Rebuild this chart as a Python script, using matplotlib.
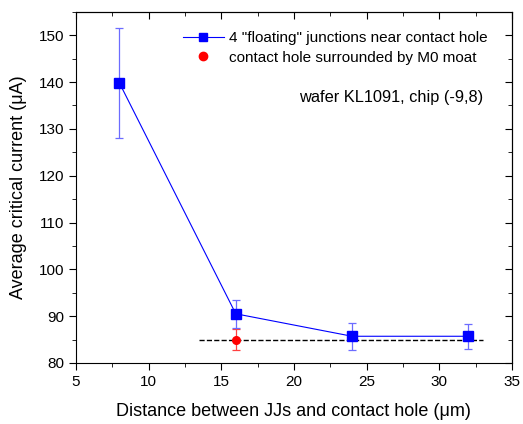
import matplotlib.pyplot as plt
from matplotlib.ticker import MultipleLocator
from matplotlib.lines import Line2D

plt.rcParams['font.family'] = ['Liberation Sans', 'DejaVu Sans']

# dados
dist = [8, 16, 24, 32]
ic_float = [139.8, 90.5, 85.7, 85.7]
err_float = [11.8, 3.0, 2.9, 2.7]

dist_moat = [16]
ic_moat = [85.0]
err_moat = [2.3]

ref_x = [13.5, 33]
ref_y = [85.0, 85.0]

fig = plt.figure(figsize=(5.23, 4.24), dpi=100)
ax = fig.add_axes([0.145, 0.144, 0.834, 0.828])

ax.plot(ref_x, ref_y, '--', color='black', lw=1, zorder=1)
ax.errorbar(dist, ic_float, yerr=err_float, fmt='s-', color='#0000ff', ms=6.5,
            lw=0.8, ecolor='#6c6cff', elinewidth=0.9, capsize=3, capthick=0.9,
            zorder=3)
ax.errorbar(dist_moat, ic_moat, yerr=err_moat, fmt='o', color='#ff0000', ms=5.5,
            ecolor='#ff4040', elinewidth=0.9, capsize=3, capthick=0.9,
            zorder=2)

ax.set_xlim(5, 35)
ax.set_ylim(80, 155)
ax.xaxis.set_major_locator(MultipleLocator(5))
ax.xaxis.set_minor_locator(MultipleLocator(2.5))
ax.yaxis.set_major_locator(MultipleLocator(10))
ax.yaxis.set_minor_locator(MultipleLocator(5))
ax.tick_params(which='both', direction='out', top=False, right=False, labelsize=11)
ax.tick_params(which='major', length=5)
ax.tick_params(which='minor', length=3)
ax2 = ax.secondary_xaxis('top')
ax2.xaxis.set_major_locator(MultipleLocator(5))
ax2.xaxis.set_minor_locator(MultipleLocator(2.5))
ax2.tick_params(which='both', direction='in', labeltop=False)
ax2.tick_params(which='major', length=5)
ax2.tick_params(which='minor', length=3)
ax3 = ax.secondary_yaxis('right')
ax3.yaxis.set_major_locator(MultipleLocator(10))
ax3.yaxis.set_minor_locator(MultipleLocator(5))
ax3.tick_params(which='both', direction='in', labelright=False)
ax3.tick_params(which='major', length=5)
ax3.tick_params(which='minor', length=3)

ax.set_xlabel('Distance between JJs and contact hole (\u03bcm)', fontsize=13, labelpad=10)
ax.set_ylabel('Average critical current (\u03bcA)', fontsize=13, labelpad=8)

handles = [
    Line2D([], [], color='#0000ff', lw=0.8, marker='s', ms=6),
    Line2D([], [], color='#ff0000', lw=0, marker='o', ms=6),
]
labels = ['4 "floating" junctions near contact hole',
          'contact hole surrounded by M0 moat']
ax.legend(handles, labels, loc='upper left', bbox_to_anchor=(0.245, 0.945),
          frameon=False, fontsize=11, handlelength=2.7, handletextpad=0.35,
          borderaxespad=0, borderpad=0, labelspacing=0.35)

ax.text(0.933, 0.755, 'wafer KL1091, chip (-9,8)', transform=ax.transAxes,
        ha='right', va='center', fontsize=11.8)

fig.savefig('out.png', dpi=100)
